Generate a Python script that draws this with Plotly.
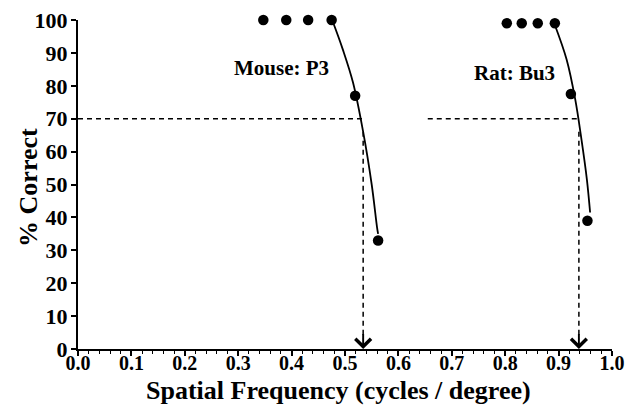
import plotly.graph_objects as go

# Data points
mouse_sf = [0.347, 0.390, 0.431, 0.475, 0.519, 0.562]
mouse_pc = [100, 100, 100, 100, 77, 33]
rat_sf = [0.803, 0.831, 0.861, 0.893, 0.923, 0.954]
rat_pc = [99, 99, 99, 99, 77.5, 39]

# Fitted curves
mouse_fit_sf = [0.476, 0.496, 0.515, 0.534, 0.550, 0.560, 0.562]
mouse_fit_pc = [100, 91, 81, 66, 50, 37, 35]
rat_fit_sf = [0.893, 0.915, 0.931, 0.943, 0.953, 0.959]
rat_fit_pc = [98.5, 88, 76, 63.5, 51.5, 41.5]

# Thresholds at the 70% criterion
criterion = 70
mouse_thr = 0.534
rat_thr = 0.938
mouse_dash_start = 0.0
rat_dash_start = 0.655
drop_top = 66

x_ticks = [0.0, 0.1, 0.2, 0.3, 0.4, 0.5, 0.6, 0.7, 0.8, 0.9, 1.0]
y_ticks = [0, 10, 20, 30, 40, 50, 60, 70, 80, 90, 100]

labels = ["Mouse: P3", "Rat: Bu3"]
label_pos = [(0.381, 85.5), (0.818, 84)]

FONT = "Liberation Serif"

fig = go.Figure()

dash_style = dict(color="black", width=1.5, dash="5px,4px")

# Dashed threshold guides
for start, thr in [(mouse_dash_start, mouse_thr), (rat_dash_start, rat_thr)]:
    fig.add_trace(go.Scatter(x=[start, thr], y=[criterion, criterion], mode="lines",
                             line=dash_style, showlegend=False, hoverinfo="skip", cliponaxis=False))
    fig.add_trace(go.Scatter(x=[thr, thr], y=[drop_top, 3], mode="lines",
                             line=dash_style, showlegend=False, hoverinfo="skip", cliponaxis=False))

# Fitted curves
for xs, ys in [(mouse_fit_sf, mouse_fit_pc), (rat_fit_sf, rat_fit_pc)]:
    fig.add_trace(go.Scatter(x=xs, y=ys, mode="lines", line=dict(color="black", width=1.8, shape="spline"),
                             showlegend=False, hoverinfo="skip", cliponaxis=False))

# Data points
for xs, ys in [(mouse_sf, mouse_pc), (rat_sf, rat_pc)]:
    fig.add_trace(go.Scatter(x=xs, y=ys, mode="markers", marker=dict(color="black", size=10.5),
                             showlegend=False, cliponaxis=False))

bold = lambda s: dict(family=FONT, size=s, color="black", weight="bold")

annotations = []
for txt, (lx, ly) in zip(labels, label_pos):
    annotations.append(dict(x=lx, y=ly, xref="x", yref="y", text=txt, showarrow=False,
                            font=bold(21), xanchor="center", yanchor="middle"))
for thr in [mouse_thr, rat_thr]:
    annotations.append(dict(x=thr, y=0, xref="x", yref="y", ax=thr, ay=5, axref="x", ayref="y",
                            showarrow=True, arrowhead=4, arrowsize=1.6, arrowwidth=1.9,
                            arrowcolor="black", standoff=0, text=""))
# Axis titles
annotations.append(dict(x=0.487, y=-0.126, xref="paper", yref="paper",
                        text="Spatial Frequency (cycles / degree)", showarrow=False,
                        font=bold(26), xanchor="center", yanchor="middle"))
annotations.append(dict(x=-0.094, y=0.492, xref="paper", yref="paper",
                        text="% Correct", showarrow=False, textangle=-90,
                        font=bold(26), xanchor="center", yanchor="middle"))

fig.update_layout(
    width=630, height=406,
    margin=dict(l=78, r=18, t=20, b=57),
    paper_bgcolor="white", plot_bgcolor="white",
    font=dict(family=FONT, color="black", weight="bold"),
    annotations=annotations,
    xaxis=dict(range=[0, 1], tickvals=x_ticks, ticktext=[f"{v:.1f}" for v in x_ticks],
               showline=True, linecolor="black", linewidth=2, ticks="outside", ticklen=5,
               tickwidth=1.5, tickcolor="black", showgrid=False, zeroline=False,
               tickfont=bold(20), automargin=False, ticklabelstandoff=-10,
               minor=dict(dtick=0.02, ticks="outside", ticklen=3, tickwidth=1, tickcolor="black", showgrid=False)),
    yaxis=dict(range=[0, 100], tickvals=y_ticks, showline=True, linecolor="black", linewidth=2,
               ticks="outside", ticklen=5, tickwidth=1.5, tickcolor="black", showgrid=False,
               zeroline=False, tickfont=bold(22), automargin=False, ticklabelstandoff=-1),
)

fig.write_html("out.html")
